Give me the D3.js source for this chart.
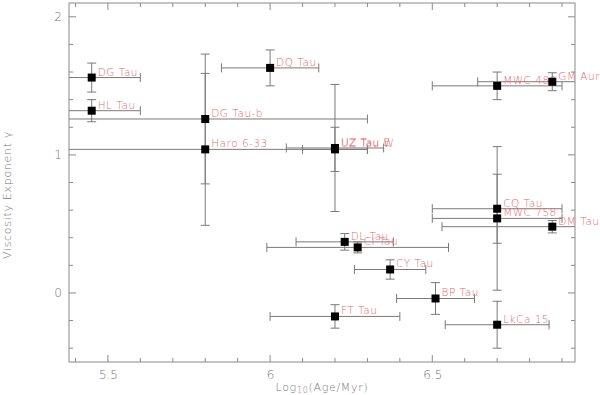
<!DOCTYPE html>
<html>
<head>
<meta charset="utf-8">
<script src="https://cdn.jsdelivr.net/npm/d3@7"></script>
<style>
  body { margin: 0; background: #fff; }
  svg { display: block; font-family: "DejaVu Sans", sans-serif; font-weight: 200; }
</style>
</head>
<body>
<svg width="600" height="395"></svg>
<script>
// disc names, log age and viscosity exponent with errors
let names    = ['DG Tau', 'HL Tau', 'DG Tau-b', 'Haro 6-33', 'DQ Tau', 'UZ Tau E', 'UZ Tau W', 'DL Tau', 'CI Tau',
                'CY Tau', 'FT Tau', 'BP Tau', 'LkCa 15', 'CQ Tau', 'MWC 758', 'DM Tau', 'MWC 480', 'GM Aur'];
let logAge   = [5.45, 5.45, 5.80, 5.80, 6.00, 6.20, 6.20, 6.23, 6.27, 6.37, 6.20, 6.51, 6.70, 6.70, 6.70, 6.87, 6.70, 6.87];
let ageErr   = [0.15, 0.15, 0.50, 0.50, 0.15, 0.15, 0.10, 0.15, 0.28, 0.11, 0.20, 0.12, 0.16, 0.20, 0.20, 0.34, 0.20, 0.23];
let gamma    = [1.56, 1.32, 1.26, 1.04, 1.63, 1.05, 1.04, 0.37, 0.33, 0.17, -0.17, -0.04, -0.23, 0.61, 0.54, 0.48, 1.50, 1.53];
let gammaErr = [0.105, 0.08, 0.47, 0.55, 0.13, 0.46, 0.16, 0.06, 0.04, 0.07, 0.085, 0.115, 0.17, 0.25, 0.52, 0.045, 0.10, 0.065];

let xTicks = [5.5, 6, 6.5];
let yTicks = [0, 1, 2];

let pLeft = 69, pRight = 575, pTop = 3, pBottom = 362;
let axisColor = '#8a8a8a';
let labelColor = '#e46a6a';

let svg = d3.select('svg');

let xScale = d3.scaleLinear().domain([5.38, 6.94]).range([pLeft, pRight]);
let yScale = d3.scaleLinear().domain([-0.5, 2.1]).range([pBottom, pTop]);

svg.append('defs').append('clipPath').attr('id', 'plot')
  .append('rect').attr('x', pLeft).attr('y', pTop)
  .attr('width', pRight - pLeft).attr('height', pBottom - pTop);

// frame
svg.append('rect')
  .attr('x', pLeft).attr('y', pTop)
  .attr('width', pRight - pLeft).attr('height', pBottom - pTop)
  .attr('fill', 'none').attr('stroke', axisColor);

// ticks on all four sides, pointing inwards
let xMinor = d3.range(54, 70).map(d => d / 10);
let yMinor = d3.range(-2, 11).map(d => d / 5);
let isMajor = (v, list) => list.some(t => Math.abs(t - v) < 1e-6);

let tickG = svg.append('g').attr('stroke', axisColor);
xMinor.forEach(v => {
  let len = isMajor(v, xTicks) ? 7 : 4;
  let x = xScale(v);
  tickG.append('line').attr('x1', x).attr('x2', x).attr('y1', pBottom).attr('y2', pBottom - len);
  tickG.append('line').attr('x1', x).attr('x2', x).attr('y1', pTop).attr('y2', pTop + len);
});
yMinor.forEach(v => {
  let len = isMajor(v, yTicks) ? 7 : 4;
  let y = yScale(v);
  tickG.append('line').attr('x1', pLeft).attr('x2', pLeft + len).attr('y1', y).attr('y2', y);
  tickG.append('line').attr('x1', pRight).attr('x2', pRight - len).attr('y1', y).attr('y2', y);
});

// tick labels via axes, lines hidden
let xAxis = d3.axisBottom(xScale).tickValues(xTicks).tickFormat(d3.format('')).tickSize(0).tickPadding(8);
let yAxis = d3.axisLeft(yScale).tickValues(yTicks).tickFormat(d3.format('d')).tickSize(0).tickPadding(7);

let gx = svg.append('g').attr('transform', `translate(0,${pBottom})`).call(xAxis);
let gy = svg.append('g').attr('transform', `translate(${pLeft},0)`).call(yAxis);
[gx, gy].forEach(g => {
  g.select('.domain').remove();
  g.selectAll('text').attr('fill', '#777')
    .style('font-size', '12px')
    .style('font-family', '"DejaVu Sans", sans-serif')
    .style('font-weight', 200);
});

// axis titles
let xt = svg.append('text')
  .attr('x', (pLeft + pRight) / 2).attr('y', 391)
  .attr('text-anchor', 'middle')
  .attr('fill', '#777').style('font-size', '11px').style('letter-spacing', '0.7px');
xt.append('tspan').text('Log');
xt.append('tspan').attr('baseline-shift', '-25%').style('font-size', '8px').text('10');
xt.append('tspan').text('(Age/Myr)');

svg.append('text')
  .attr('transform', 'translate(11,195) rotate(-90)')
  .attr('text-anchor', 'middle')
  .attr('fill', '#777').style('font-size', '11px').style('letter-spacing', '0.7px')
  .text('Viscosity Exponent γ');

// error bars
let eb = svg.append('g').attr('clip-path', 'url(#plot)')
  .attr('stroke', '#7a7a7a').attr('stroke-width', 1).attr('fill', 'none');
let cap = 4.5;

names.forEach((n, i) => {
  let cx = xScale(logAge[i]), cy = yScale(gamma[i]);
  let x0 = xScale(logAge[i] - ageErr[i]), x1 = xScale(logAge[i] + ageErr[i]);
  let y0 = yScale(gamma[i] - gammaErr[i]), y1 = yScale(gamma[i] + gammaErr[i]);
  eb.append('line').attr('x1', x0).attr('x2', x1).attr('y1', cy).attr('y2', cy);
  eb.append('line').attr('x1', x0).attr('x2', x0).attr('y1', cy - cap).attr('y2', cy + cap);
  eb.append('line').attr('x1', x1).attr('x2', x1).attr('y1', cy - cap).attr('y2', cy + cap);
  eb.append('line').attr('x1', cx).attr('x2', cx).attr('y1', y0).attr('y2', y1);
  eb.append('line').attr('x1', cx - cap).attr('x2', cx + cap).attr('y1', y0).attr('y2', y0);
  eb.append('line').attr('x1', cx - cap).attr('x2', cx + cap).attr('y1', y1).attr('y2', y1);
});

// labels
svg.append('g').selectAll('text')
  .data(names)
  .enter()
  .append('text')
  .attr('x', (d, i) => xScale(logAge[i]) + 6)
  .attr('y', (d, i) => yScale(gamma[i]) - 2)
  .attr('fill', labelColor)
  .style('font-size', '10.5px')
  .style('letter-spacing', '0.5px')
  .text(d => d);

// markers
let m = 8;
svg.append('g').selectAll('rect')
  .data(names)
  .enter()
  .append('rect')
  .attr('x', (d, i) => xScale(logAge[i]) - m / 2)
  .attr('y', (d, i) => yScale(gamma[i]) - m / 2)
  .attr('width', m).attr('height', m)
  .attr('fill', '#000');
</script>
</body>
</html>
